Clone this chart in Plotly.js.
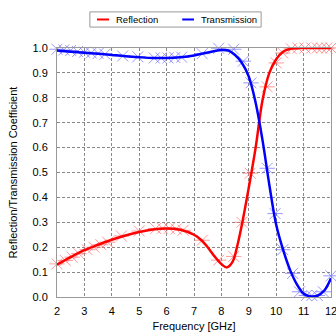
<!DOCTYPE html>
<html>
<head>
<meta charset="utf-8">
<script src="https://cdn.plot.ly/plotly-3.0.1.min.js"></script>
<style>html,body{margin:0;padding:0;background:#fff;}#chart{width:336px;height:333px;}</style>
</head>
<body>
<div id="chart"></div>
<script>
// Simulated (smooth) curves
var simFreqR = [2, 2.5, 3, 3.5, 4, 4.5, 5, 5.5, 6, 6.5, 7, 7.25, 7.5, 7.75, 8, 8.2, 8.4, 8.6, 8.8, 9, 9.25, 9.5, 9.75, 10, 10.25, 10.5, 11, 11.5, 12];
var simRefl = [0.13, 0.16, 0.188, 0.21, 0.23, 0.247, 0.261, 0.271, 0.275, 0.27, 0.25, 0.23, 0.2, 0.163, 0.132, 0.119, 0.14, 0.215, 0.32, 0.44, 0.6, 0.79, 0.9, 0.955, 0.985, 0.996, 1.0, 1.0, 1.0];
var simFreqT = [2, 2.5, 3, 3.5, 4, 4.5, 5, 5.5, 6, 6.5, 7, 7.5, 8, 8.25, 8.5, 8.75, 9, 9.25, 9.5, 9.75, 10, 10.25, 10.5, 10.75, 11, 11.25, 11.5, 11.75, 12];
var simTrans = [0.99, 0.985, 0.981, 0.977, 0.972, 0.967, 0.963, 0.96, 0.96, 0.963, 0.97, 0.982, 0.992, 0.99, 0.972, 0.94, 0.885, 0.78, 0.63, 0.45, 0.29, 0.19, 0.11, 0.052, 0.014, 0.002, 0.005, 0.025, 0.075];

// Measured points (markers)
var measFreqR = [2.0, 2.3, 2.55, 2.8, 3.1, 3.35, 3.6, 3.85, 4.35, 5.0, 5.6, 5.85, 6.1, 6.35, 6.6, 7.3, 7.9, 8.45, 8.75, 9.05, 9.67, 10.0, 10.24, 10.55, 10.8, 11.05, 11.3, 11.5, 11.65, 11.85, 12.0];
var measRefl  = [0.133, 0.147, 0.16, 0.174, 0.19, 0.2, 0.21, 0.22, 0.245, 0.265, 0.275, 0.276, 0.276, 0.273, 0.268, 0.228, 0.148, 0.163, 0.3, 0.497, 0.844, 0.94, 0.98, 0.997, 1.0, 1.0, 1.0, 1.0, 1.0, 1.0, 1.0];
var measFreqT = [2.0, 2.25, 2.5, 2.75, 3.0, 3.25, 3.5, 3.75, 4.4, 4.95, 5.55, 5.8, 6.05, 6.3, 6.55, 7.3, 7.9, 8.45, 8.8, 9.08, 9.67, 9.96, 10.24, 10.6, 10.85, 11.1, 11.3, 11.5, 11.72, 12.0];
var measTrans = [0.995, 0.992, 0.99, 0.986, 0.983, 0.98, 0.978, 0.975, 0.968, 0.965, 0.96, 0.96, 0.96, 0.962, 0.963, 0.977, 0.999, 0.995, 0.947, 0.86, 0.517, 0.335, 0.19, 0.095, 0.021, 0.006, 0.006, 0.006, 0.021, 0.085];

var xTicks = [2, 3, 4, 5, 6, 7, 8, 9, 10, 11, 12];
var yTicks = [0, 0.1, 0.2, 0.3, 0.4, 0.5, 0.6, 0.7, 0.8, 0.9, 1.0];
var seriesNames = ['Reflection', 'Transmission'];

var redM = 'rgba(255,110,110,0.7)';
var blueM = 'rgba(110,110,255,0.7)';

function markerTrace(x, y, sym, col) {
  return {x: x, y: y, mode: 'markers', type: 'scatter', showlegend: false, hoverinfo: 'skip',
    marker: {symbol: sym, size: 11, color: col, line: {color: col, width: 1}}, cliponaxis: false};
}

var data = [
  markerTrace(measFreqR, measRefl, 'x-thin-open', redM),
  markerTrace(measFreqR, measRefl, 'line-ew-open', redM),
  markerTrace(measFreqT, measTrans, 'x-thin-open', blueM),
  markerTrace(measFreqT, measTrans, 'line-ew-open', blueM),
  {x: simFreqR, y: simRefl, mode: 'lines', type: 'scatter', name: seriesNames[0], showlegend: false,
   line: {color: '#ff0000', width: 2.5, shape: 'spline'}},
  {x: simFreqT, y: simTrans, mode: 'lines', type: 'scatter', name: seriesNames[1], showlegend: false,
   line: {color: '#0000ff', width: 2.5, shape: 'spline'}}
];

var fam = 'Liberation Sans, Arial, sans-serif';
var axisFont = {family: fam, size: 11, color: '#000'};
var legFont = {family: fam, size: 9.5, color: '#000'};

var layout = {
  width: 336, height: 333,
  margin: {l: 57, r: 5, t: 48, b: 36},
  paper_bgcolor: '#fff', plot_bgcolor: '#fff',
  font: axisFont,
  showlegend: false,
  shapes: [
    {type: 'rect', xref: 'paper', yref: 'paper', x0: 0.12, x1: 0.745, y0: 1.084, y1: 1.145,
     line: {color: '#999', width: 1}, fillcolor: '#fff'},
    {type: 'line', xref: 'paper', yref: 'paper', x0: 0.146, x1: 0.19, y0: 1.1145, y1: 1.1145,
     line: {color: '#ff0000', width: 2}},
    {type: 'line', xref: 'paper', yref: 'paper', x0: 0.457, x1: 0.50, y0: 1.1145, y1: 1.1145,
     line: {color: '#0000ff', width: 2}}
  ],
  annotations: [
    {xref: 'paper', yref: 'paper', x: 0.208, y: 1.1145, xanchor: 'left', yanchor: 'middle',
     text: seriesNames[0], showarrow: false, font: legFont},
    {xref: 'paper', yref: 'paper', x: 0.52, y: 1.1145, xanchor: 'left', yanchor: 'middle',
     text: seriesNames[1], showarrow: false, font: legFont}
  ],
  xaxis: {range: [2, 12], tickvals: xTicks, ticktext: xTicks.map(String), ticks: '', ticklabelstandoff: 4,
    ticklabeloverflow: 'allow',
    showline: true, mirror: true, linecolor: '#999', linewidth: 1,
    showgrid: true, gridcolor: '#888', griddash: '3px,2px', gridwidth: 1, zeroline: false,
    title: {text: 'Frequency [GHz]', font: axisFont, standoff: 6}, tickfont: axisFont},
  yaxis: {range: [0, 1], tickvals: yTicks, ticktext: yTicks.map(function(v){return v.toFixed(1);}), ticks: '', ticklabelstandoff: 6,
    ticklabeloverflow: 'allow',
    showline: true, mirror: true, linecolor: '#999', linewidth: 1,
    showgrid: true, gridcolor: '#888', griddash: '3px,2px', gridwidth: 1, zeroline: false,
    title: {text: 'Reflection/Transmission Coefficient', font: axisFont, standoff: 12}, tickfont: axisFont}
};

Plotly.newPlot('chart', data, layout, {displayModeBar: false, staticPlot: true});
</script>
</body>
</html>
